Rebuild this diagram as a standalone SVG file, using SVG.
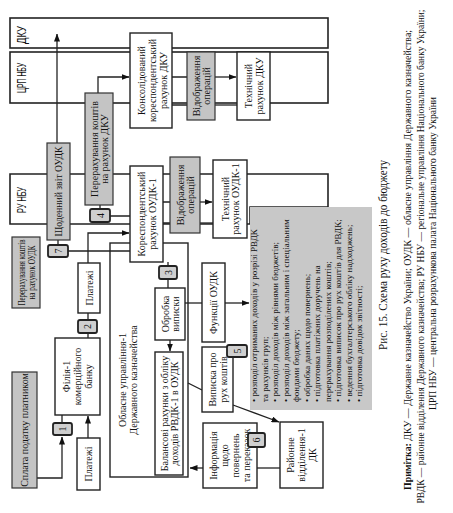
<svg xmlns="http://www.w3.org/2000/svg" width="453" height="513" viewBox="0 0 453 513">
<defs>
<marker id="ah" markerWidth="8" markerHeight="6" refX="7.5" refY="3" orient="auto" markerUnits="userSpaceOnUse"><path d="M0,0 L8,3 L0,6 Z" fill="#111"/></marker>
<style>
.lane{fill:none;stroke:#222;stroke-width:1.6}
.b{fill:#fff;stroke:#222;stroke-width:1.4}
.g{fill:#c4c4c4;stroke:#333;stroke-width:1.2}
.bd{fill:#cfcfcf;stroke:#222;stroke-width:1.8}
.t{font-family:"Liberation Serif","Times New Roman",serif;font-size:10px;fill:#111;text-anchor:middle}
.ls{font-family:"Liberation Sans",Arial,sans-serif;font-size:12px;fill:#111;text-anchor:middle}
.n{font-family:"Liberation Serif",serif;font-size:9px;fill:#111}
.c{stroke:#222;stroke-width:1.3;fill:none}
.ca{font-family:"Liberation Serif","Times New Roman",serif;fill:#111;text-anchor:middle}
</style>
</defs>
<rect width="453" height="513" fill="#fff"/>

<g id="lanes">
<g id="lane-dku"><rect class="lane" x="10" y="18" width="318" height="30"/><text class="ls" transform="translate(22,35) rotate(-90)" y="4" textLength="18" lengthAdjust="spacingAndGlyphs">ДКУ</text></g>
<g id="lane-crp"><rect class="lane" x="10" y="52" width="318" height="51"/><text class="ls" transform="translate(22,78) rotate(-90)" y="4" textLength="30" lengthAdjust="spacingAndGlyphs">ЦРП НБУ</text></g>
<g id="lane-ru"><path class="lane" d="M10,174 H328 V207 H250 V224 H10 Z"/><text class="ls" transform="translate(22,200) rotate(-90)" y="4" textLength="26" lengthAdjust="spacingAndGlyphs">РУ НБУ</text></g>
</g>

<g id="oudk-region"><rect class="b" x="110" y="243" width="78" height="234"/>
<text class="t" transform="translate(128,380) rotate(-90)"><tspan x="0" y="-2">Обласне управління-1</tspan><tspan x="0" y="9">Державного казначейства</tspan></text></g>

<g id="connectors">
<path class="c" d="M57,143 V34" marker-end="url(#ah)"/>
<path class="c" d="M98,93 V77 H129" marker-end="url(#ah)"/>
<path class="c" d="M172,77 H187 M172,105 H187"/>
<path class="c" d="M215,77 H236" marker-end="url(#ah)"/>
<path class="c" d="M215,105 H237"/>
<path class="c" d="M163,202 H170 M163,223 H170"/>
<path class="c" d="M200,202 H212" marker-end="url(#ah)"/>
<path class="c" d="M200,223 H213"/>
<path class="c" d="M110,216 H130 M100,205 V209"/>
<path class="c" d="M68,251 H130 M58,240 V245"/>
<path class="c" d="M88,263 V233 H129" marker-end="url(#ah)"/>
<path class="c" d="M88,313 V320 M88,333 V338"/>
<path class="c" d="M88,438 V416" marker-end="url(#ah)"/>
<path class="c" d="M37,478 H62 V437" marker-end="url(#ah)"/>
<path class="c" d="M62,423 V415"/>
<path class="c" d="M168,262 V266 M168,279 V288"/>
<path class="c" d="M170,340 V351" marker-end="url(#ah)"/>
<path class="c" d="M185,303 H202"/>
<path class="c" d="M225,303 H249" marker-end="url(#ah)"/>
<path class="c" d="M188,383 L202,390"/>
<path class="c" d="M233,405 L279,422" marker-end="url(#ah)"/>
<path class="c" d="M280,468 H257"/>
<path class="c" d="M203,468 H190" marker-end="url(#ah)"/>
</g>

<g id="n-kons"><rect class="b" x="130" y="33" width="42" height="95"/>
<text class="t" transform="translate(152,80.5) rotate(-90)"><tspan x="0" y="-7.5">Консолідований</tspan><tspan x="0" y="3.5">кореспондентський</tspan><tspan x="0" y="14.5">рахунок ДКУ</tspan></text></g>
<g id="n-vidobr1"><rect class="g" x="187" y="52" width="28" height="68"/>
<text class="t" transform="translate(201,86) rotate(-90)"><tspan x="0" y="-1.5">Відображення</tspan><tspan x="0" y="8.5">операцій</tspan></text></g>
<g id="n-tech-dku"><rect class="b" x="237" y="52" width="33" height="68"/>
<text class="t" transform="translate(253.5,86) rotate(-90)"><tspan x="0" y="-1.5">Технічний</tspan><tspan x="0" y="9">рахунок ДКУ</tspan></text></g>
<g id="n-perer-dku"><rect class="g" x="85" y="93" width="28" height="112"/>
<text class="t" transform="translate(99,149) rotate(-90)"><tspan x="0" y="-1.5">Перерахування коштів</tspan><tspan x="0" y="9">на рахунок ДКУ</tspan></text></g>
<g id="n-zvit"><rect class="g" x="47" y="143" width="23" height="97"/>
<text class="t" transform="translate(58.5,191.5) rotate(-90)" y="3.5" textLength="90" lengthAdjust="spacingAndGlyphs">Щоденний звіт ОУДК</text></g>
<g id="b7"><rect class="bd" x="48" y="245" width="20" height="12" rx="2"/><text class="t" transform="translate(58,251) rotate(-90)" y="3.5">7</text></g>
<g id="b4"><rect class="bd" x="90" y="209" width="20" height="13" rx="2"/><text class="t" transform="translate(100,215.5) rotate(-90)" y="3.5">4</text></g>
<g id="n-kor"><rect class="b" x="130" y="166" width="33" height="96"/>
<text class="t" transform="translate(146.5,214) rotate(-90)"><tspan x="0" y="-1.5">Кореспондентський</tspan><tspan x="0" y="9">рахунок ОУДК-1</tspan></text></g>
<g id="n-vidobr2"><rect class="g" x="170" y="157" width="30" height="76"/>
<text class="t" transform="translate(185,195) rotate(-90)"><tspan x="0" y="-1.5">Відображення</tspan><tspan x="0" y="8.5">операцій</tspan></text></g>
<g id="n-tech-oudk"><rect class="b" x="213" y="160" width="34" height="78"/>
<text class="t" transform="translate(230,199) rotate(-90)"><tspan x="0" y="-1.5">Технічний</tspan><tspan x="0" y="9">рахунок ОУДК-1</tspan></text></g>
<g id="n-perer-oudk"><rect class="g" x="12" y="237" width="28" height="71"/>
<text class="t" transform="translate(26,272.5) rotate(-90)"><tspan x="0" y="-1.5" textLength="66" lengthAdjust="spacingAndGlyphs">Перерахування коштів</tspan><tspan x="0" y="9" textLength="54" lengthAdjust="spacingAndGlyphs">на рахунок ОУДК</tspan></text></g>
<g id="n-plat1"><rect class="b" x="78" y="263" width="22" height="50"/><text class="t" transform="translate(89,288) rotate(-90)" y="3.5">Платежі</text></g>
<g id="b2"><rect class="bd" x="78" y="320" width="19" height="13" rx="2"/><text class="t" transform="translate(87.5,326.5) rotate(-90)" y="3.5">2</text></g>
<g id="n-filia"><rect class="b" x="55" y="338" width="45" height="77"/>
<text class="t" transform="translate(77.5,376.5) rotate(-90)"><tspan x="0" y="-7.5">Філія-1</tspan><tspan x="0" y="3.5">комерційного</tspan><tspan x="0" y="14.5">банку</tspan></text></g>
<g id="b1"><rect class="bd" x="53" y="423" width="19" height="12" rx="2"/><text class="t" transform="translate(62.5,429) rotate(-90)" y="3.5">1</text></g>
<g id="n-plat2"><rect class="b" x="77" y="438" width="23" height="52"/><text class="t" transform="translate(88.5,464) rotate(-90)" y="3.5">Платежі</text></g>
<g id="n-splata"><rect class="g" x="12" y="372" width="25" height="116"/><text class="t" transform="translate(24.5,430) rotate(-90)" y="3.5">Сплата податку платником</text></g>
<g id="b3"><rect class="bd" x="159" y="266" width="18" height="13" rx="2"/><text class="t" transform="translate(168,272.5) rotate(-90)" y="3.5">3</text></g>
<g id="n-obrobka"><rect class="b" x="155" y="288" width="30" height="52"/>
<text class="t" transform="translate(170,314) rotate(-90)"><tspan x="0" y="-1.5">Обробка</tspan><tspan x="0" y="8.5">виписки</tspan></text></g>
<g id="n-funk"><rect class="b" x="202" y="263" width="23" height="79"/><text class="t" transform="translate(213.5,302.5) rotate(-90)" y="3.5">Функції ОУДК</text></g>
<g id="n-balans"><rect class="b" x="155" y="352" width="28" height="123"/>
<text class="t" transform="translate(169,413.5) rotate(-90)"><tspan x="0" y="-1.5">Балансові рахунки з обліку</tspan><tspan x="0" y="9">доходів РВДК-1 в ОУДК</tspan></text></g>
<g id="n-vyp"><rect class="b" x="202" y="347" width="31" height="65"/>
<text class="t" transform="translate(217.5,379.5) rotate(-90)"><tspan x="0" y="-1.5">Виписка про</tspan><tspan x="0" y="9">рух коштів</tspan></text></g>
<g id="b5"><rect class="bd" x="227" y="345" width="20" height="12" rx="2"/><text class="t" transform="translate(237,351) rotate(-90)" y="3.5">5</text></g>
<g id="n-info"><rect class="b" x="203" y="423" width="54" height="65"/>
<text class="t" transform="translate(230,455.5) rotate(-90)"><tspan x="0" y="-13">Інформація</tspan><tspan x="0" y="-2">щодо</tspan><tspan x="0" y="9">повернень</tspan><tspan x="0" y="20">та переказок</tspan></text></g>
<g id="b6"><rect class="bd" x="248" y="433" width="17" height="14" rx="2"/><text class="t" transform="translate(256.5,440) rotate(-90)" y="3.5">6</text></g>
<g id="n-rayon"><rect class="b" x="280" y="422" width="43" height="66"/>
<text class="t" transform="translate(301.5,455) rotate(-90)"><tspan x="0" y="-7.5">Районне</tspan><tspan x="0" y="3.5">відділення-1</tspan><tspan x="0" y="14.5">ДК</tspan></text></g>

<g id="n-funcs"><rect x="250" y="207" width="122" height="203" fill="#c8c8c8"/>
<g class="n">
<text transform="translate(257,402) rotate(-90)">• розподіл отриманих доходів у розрізі РВДК</text>
<text transform="translate(267.5,402) rotate(-90)">  та рахунків груп;</text>
<text transform="translate(278,402) rotate(-90)">• розподіл доходів між рівнями бюджетів;</text>
<text transform="translate(288.5,402) rotate(-90)">• розподіл доходів між загальним і спеціальним</text>
<text transform="translate(299,402) rotate(-90)">  фондами бюджету;</text>
<text transform="translate(309.5,402) rotate(-90)">• обробка даних щодо повернень;</text>
<text transform="translate(320,402) rotate(-90)">• підготовка платіжних доручень на</text>
<text transform="translate(330.5,402) rotate(-90)">  перерахування розподілених коштів;</text>
<text transform="translate(341,402) rotate(-90)">• підготовка виписок про рух коштів для РВДК;</text>
<text transform="translate(351.5,402) rotate(-90)">• ведення бухгалтерського обліку надходжень;</text>
<text transform="translate(362,402) rotate(-90)">• підготовка довідок звітності;</text>
</g></g>

<g id="caption">
<text class="ca" style="font-size:12px" transform="translate(387,255) rotate(-90)" textLength="190" lengthAdjust="spacingAndGlyphs">Рис. 15. Схема руху доходів до бюджету</text>
<text class="ca" style="font-size:10.5px" transform="translate(411,260) rotate(-90)" textLength="460" lengthAdjust="spacingAndGlyphs"><tspan font-weight="bold">Примітка:</tspan> ДКУ — Державне казначейство України; ОУДК — обласне управління Державного казначейства;</text>
<text class="ca" style="font-size:9.5px" transform="translate(424,256.5) rotate(-90)" textLength="494" lengthAdjust="spacingAndGlyphs">РВДК — районне відділення Державного казначейства; РУ НБУ — регіональне управління Національного банку України;</text>
<text class="ca" style="font-size:10.5px" transform="translate(436,253.5) rotate(-90)" textLength="313" lengthAdjust="spacingAndGlyphs">ЦРП НБУ — центральна розрахункова палата Національного банку України</text>
</g>
</svg>
